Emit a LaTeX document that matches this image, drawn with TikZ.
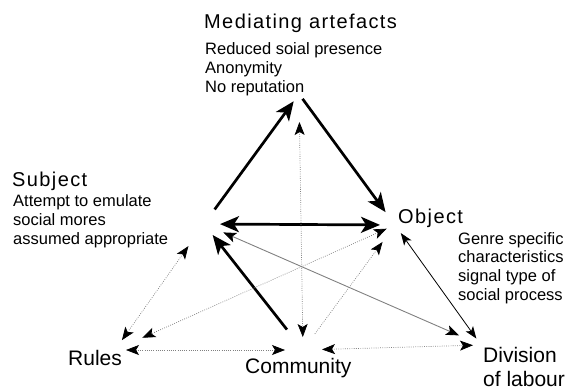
\documentclass[tikz,border=0pt]{standalone}
\usepackage{fontspec}
\setmainfont{Liberation Sans}
\newfontfamily\widefont[LetterSpace=7]{Liberation Sans}
\usetikzlibrary{arrows.meta}

\begin{document}
\begin{tikzpicture}[x=1pt,y=-1pt,
heading/.style={anchor=base west, inner sep=0pt, font=\widefont\fontsize{20}{24}\selectfont},
corner/.style={anchor=base west, inner sep=0pt, align=left, font=\fontsize{21}{24.5}\selectfont},
note/.style={anchor=base west, inner sep=0pt, align=left, font=\fontsize{16.5}{18.8}\selectfont},
strong/.style={line width=2.7pt, >={Stealth[length=19pt,width=16pt,inset=5pt]}},
fine/.style={line width=0.8pt, >={Stealth[length=12pt,width=9pt,inset=3pt]}},
shade/.style={gray, line width=0.9pt, >={Stealth[length=13pt,width=10pt,inset=3pt,black]}},
faint/.style={gray, line width=0.7pt, dash pattern=on 0.8pt off 1.4pt, >={Stealth[length=13pt,width=10pt,inset=3pt,black]}}
]
\useasboundingbox (0,0) rectangle (577,391);
% labels (multi-line ones sit on their last baseline)
\node[heading] (medhead) at (204,28.5) {Mediating artefacts};
\node[note] (mednote) at (205,92.5) {Reduced soial presence\\Anonymity\\No reputation};
\node[heading] (subhead) at (12,186.5) {Subject};
\node[note] (subnote) at (13,244.5) {Attempt to emulate\\social mores\\assumed appropriate};
\node[heading] (objhead) at (398,223) {Object};
\node[note] (objnote) at (458,300.5) {Genre specific\\characteristics\\signal type of\\social process};
\node[corner] (rules) at (68,365) {Rules};
\node[corner] (community) at (245,373) {Community};
\node[corner] (division) at (483,386.5) {Division\\of labour};
% corners of the triangles
\coordinate (M) at (299,94);
\coordinate (S) at (204,224);
\coordinate (O) at (395,225);
\coordinate (R) at (115,350);
\coordinate (C) at (303,350);
\coordinate (D) at (481,345);
% upper triangle
\draw[strong,->,shorten <=18pt,shorten >=9pt] (S) -- (M);
\draw[strong,->,shorten <=6pt,shorten >=16pt] (M) -- (O);
\draw[strong,<->,shorten <=16pt,shorten >=15pt] (S) -- (O);
\draw[strong,->,shorten <=26pt,shorten >=14pt] (C) -- (S);
\draw[faint,<->,shorten <=28pt,shorten >=13pt] (M) -- (C);
% lower links
\draw[shade,<->,shorten <=21pt,shorten >=24pt] (S) -- (D);
\draw[fine,<->,shorten <=10pt,shorten >=8pt] (O) -- (D);
\draw[faint,<->,shorten <=27pt,shorten >=12pt] (S) -- (R);
\draw[faint,<->,shorten <=9pt,shorten >=30pt] (O) -- (R);
\draw[faint,->,shorten <=20pt,shorten >=21pt] (C) -- (O);
\draw[faint,<->,shorten <=11pt,shorten >=18pt] (R) -- (C);
\draw[faint,<->,shorten <=19pt,shorten >=8pt] (C) -- (D);
\end{tikzpicture}
\end{document}
